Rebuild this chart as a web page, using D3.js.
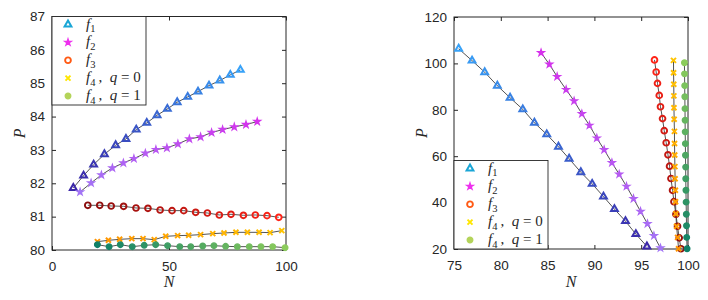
<!DOCTYPE html>
<html lang="en">
<head>
<meta charset="UTF-8">
<title>P vs N</title>
<script src="https://d3js.org/d3.v7.min.js"></script>
<style>
    body { margin: 0; background: #fff; }
    #chart { width: 708px; height: 300px; }
    .tick text { font-family: "Liberation Sans", Arial, sans-serif; font-size: 13.5px; fill: #262626; }
    .tick line { stroke: #262626; }
    .lbl { font-family: "Liberation Serif", "Times New Roman", serif; font-style: italic; font-size: 16px; fill: #262626; }
    .leg { font-family: "Liberation Serif", "Times New Roman", serif; font-size: 15px; fill: #262626; }
</style>
</head>
<body>
<div id="chart"></div>
<script>
// series names (legend)
const seriesNames = ["f1", "f2", "f3", "f4q0", "f4q1"];

// left panel (N ascending)
const leftF1N = [9.1, 13.5, 17.8, 22.4, 27.2, 31.6, 36.0, 40.5, 44.9, 49.3, 53.5, 58.0, 62.4, 67.1, 71.7, 76.2, 80.5];
const leftF1P = [81.86, 82.23, 82.56, 82.87, 83.14, 83.33, 83.61, 83.81, 84.04, 84.23, 84.43, 84.59, 84.75, 84.93, 85.08, 85.25, 85.40];
const leftF2N = [12.0, 16.7, 21.1, 25.8, 30.5, 35.0, 39.9, 44.4, 49.1, 53.8, 58.7, 63.5, 68.2, 72.9, 77.9, 82.9, 87.7];
const leftF2P = [81.74, 82.01, 82.25, 82.46, 82.61, 82.74, 82.90, 83.01, 83.06, 83.18, 83.33, 83.39, 83.52, 83.61, 83.69, 83.76, 83.85];
const leftF3N = [15.3, 20.4, 25.3, 30.6, 35.9, 41.0, 46.2, 51.3, 56.3, 61.4, 66.4, 71.5, 76.5, 81.8, 86.9, 91.9, 96.9];
const leftF3P = [81.34, 81.34, 81.32, 81.31, 81.26, 81.25, 81.20, 81.18, 81.18, 81.13, 81.11, 81.05, 81.07, 81.04, 81.05, 81.03, 80.98];
const leftF4q0N = [19.4, 24.1, 28.9, 34.1, 38.9, 43.7, 48.6, 53.7, 58.4, 63.5, 68.7, 73.5, 78.6, 83.5, 88.5, 93.2, 98.2];
const leftF4q0P = [80.25, 80.29, 80.32, 80.34, 80.34, 80.31, 80.41, 80.43, 80.44, 80.46, 80.49, 80.51, 80.53, 80.53, 80.53, 80.52, 80.58];
const leftF4q1N = [19.4, 24.4, 29.2, 34.3, 39.4, 44.3, 49.4, 54.6, 59.3, 64.4, 69.2, 74.2, 79.2, 84.3, 89.3, 94.3, 99.6];
const leftF4q1P = [80.16, 80.10, 80.16, 80.10, 80.14, 80.16, 80.13, 80.10, 80.10, 80.12, 80.13, 80.11, 80.10, 80.10, 80.10, 80.10, 80.07];

// right panel (top to bottom)
const rightF1N = [75.50, 76.93, 78.28, 79.63, 80.99, 82.35, 83.59, 84.91, 86.16, 87.30, 88.55, 89.76, 90.97, 92.14, 93.32, 94.43, 95.61];
const rightF1P = [106.3, 101.2, 96.2, 90.4, 85.2, 80.2, 74.4, 69.4, 64.1, 58.9, 53.1, 48.1, 42.6, 37.2, 32.0, 26.4, 21.1];
const rightF2N = [84.30, 85.19, 86.02, 86.98, 87.83, 88.66, 89.47, 90.26, 91.04, 91.87, 92.65, 93.43, 94.18, 94.93, 95.67, 96.36, 97.06];
const rightF2P = [104.6, 99.6, 94.3, 88.7, 83.8, 78.3, 73.3, 67.8, 62.8, 57.2, 52.2, 47.0, 41.7, 36.2, 30.9, 25.7, 20.4];
const rightF3N = [96.42, 96.60, 96.74, 96.93, 97.06, 97.28, 97.46, 97.67, 97.86, 98.03, 98.18, 98.35, 98.50, 98.71, 98.88, 99.06, 99.25];
const rightF3P = [101.5, 96.3, 91.4, 86.2, 81.3, 76.2, 71.0, 65.8, 60.6, 55.7, 50.4, 45.3, 40.4, 35.0, 29.8, 24.8, 20.1];
const rightF4q0N = [98.45, 98.46, 98.48, 98.49, 98.50, 98.52, 98.55, 98.56, 98.58, 98.60, 98.62, 98.65, 98.67, 98.70, 98.78, 98.89, 98.99];
const rightF4q0P = [101.3, 96.0, 91.0, 86.0, 80.9, 75.9, 70.7, 65.5, 60.5, 55.5, 50.3, 45.3, 40.4, 35.2, 29.8, 25.0, 20.1];
const rightF4q1N = [99.62, 99.63, 99.65, 99.66, 99.68, 99.69, 99.70, 99.72, 99.73, 99.75, 99.76, 99.78, 99.80, 99.82, 99.84, 99.86, 99.90];
const rightF4q1P = [100.3, 95.5, 90.4, 85.6, 80.5, 75.5, 70.5, 65.4, 60.4, 55.3, 50.3, 45.3, 40.2, 35.0, 30.0, 25.0, 20.1];

// tick labels
const leftXTicks = [0, 50, 100];
const leftYTicks = [80, 81, 82, 83, 84, 85, 86, 87];
const rightXTicks = [75, 80, 85, 90, 95, 100];
const rightYTicks = [20, 40, 60, 80, 100, 120];

// per series look: marker, gradient start/end, legend colour
const style = {
    f1:   { sym: d3.symbolTriangle, size: 20, fill: false, sw: 2,   c0: "#3b27a8", c1: "#38a2f8", leg: "#1aa6d6" },
    f2:   { sym: d3.symbolStar,     size: 11, fill: true,  sw: 1.5, c0: "#a274f6", c1: "#d630ec", leg: "#ee30ee" },
    f3:   { sym: d3.symbolCircle,   size: 26, fill: false, sw: 1.9, c0: "#8a0c0c", c1: "#ff2418", leg: "#ff5a14" },
    f4q0: { sym: d3.symbolTimes,    size: 18, fill: false, sw: 2,   c0: "#ff9400", c1: "#ffc400", leg: "#ffe600" },
    f4q1: { sym: d3.symbolCircle,   size: 24, fill: true,  sw: 1.4, c0: "#0f8068", c1: "#8ccc5c", leg: "#b4d45a" }
};

const svg = d3.select("#chart").append("svg")
    .attr("width", 708)
    .attr("height", 300);

function drawPanel(p) {
    const x = d3.scaleLinear().domain(p.xDomain).range([p.left, p.right]);
    const y = d3.scaleLinear().domain(p.yDomain).range([p.bottom, p.top]);
    const g = svg.append("g");

    // axes with inward ticks on all four sides
    g.append("g").attr("transform", `translate(0,${p.bottom})`)
        .call(d3.axisBottom(x).tickValues(p.xTicks).tickSizeInner(-4).tickSizeOuter(0).tickPadding(11.5).tickFormat(d3.format("d")));
    g.append("g").attr("transform", `translate(0,${p.top})`)
        .call(d3.axisTop(x).tickValues(p.xTicks).tickSizeInner(-4).tickSizeOuter(0).tickFormat(""));
    g.append("g").attr("transform", `translate(${p.left},0)`)
        .call(d3.axisLeft(y).tickValues(p.yTicks).tickSizeInner(-4).tickSizeOuter(0).tickPadding(7).tickFormat(d3.format("d")));
    g.append("g").attr("transform", `translate(${p.right},0)`)
        .call(d3.axisRight(y).tickValues(p.yTicks).tickSizeInner(-4).tickSizeOuter(0).tickFormat(""));
    g.selectAll(".domain").remove();

    g.append("rect")
        .attr("x", p.left).attr("y", p.top)
        .attr("width", p.right - p.left).attr("height", p.bottom - p.top)
        .attr("fill", "none").attr("stroke", "#262626").attr("stroke-width", 1);

    // connecting lines first
    const line = d3.line().x(d => x(d[0])).y(d => y(d[1]));
    p.series.forEach(s => {
        const pts = s.N.map((n, i) => [n, s.P[i]]);
        g.append("path").datum(pts)
            .attr("d", line)
            .attr("fill", "none")
            .attr("stroke", "#404040")
            .attr("stroke-width", 0.9);
    });

    // markers, colour running along each series
    p.series.forEach(s => {
        const st = style[s.name];
        const col = d3.interpolateRgb(st.c0, st.c1);
        const n = s.N.length;
        const t = i => p.flip ? 1 - i / (n - 1) : i / (n - 1);
        const sym = d3.symbol().type(st.sym).size(st.size);
        g.append("g").selectAll("path")
            .data(s.N.map((v, i) => ({ n: v, p: s.P[i], i: i })))
            .join("path")
            .attr("transform", d => `translate(${x(d.n)},${y(d.p)})`)
            .attr("d", sym)
            .attr("fill", d => st.fill ? col(t(d.i)) : "none")
            .attr("stroke", d => col(t(d.i)))
            .attr("stroke-width", st.sw);
    });

    // axis titles
    g.append("text").attr("class", "lbl")
        .attr("x", (p.left + p.right) / 2).attr("y", 287)
        .attr("text-anchor", "middle").text("N");
    g.append("text").attr("class", "lbl")
        .attr("transform", `translate(${p.left - 27},${(p.top + p.bottom) / 2}) rotate(-90)`)
        .attr("text-anchor", "middle").text("P");

    // legend
    const lg = g.append("g").attr("transform", `translate(${p.legX},${p.legY})`);
    lg.append("rect").attr("width", 94).attr("height", 88.5)
        .attr("fill", "#fff").attr("stroke", "#262626").attr("stroke-width", 0.9);
    const rowY = d3.scalePoint().domain(seriesNames).range([8, 79.5]);
    seriesNames.forEach(name => {
        const st = style[name];
        const cy = rowY(name);
        lg.append("path")
            .attr("transform", `translate(16,${cy})`)
            .attr("d", d3.symbol().type(st.sym).size(st.size)())
            .attr("fill", st.fill ? st.leg : "none")
            .attr("stroke", st.leg)
            .attr("stroke-width", st.sw);
        const t = lg.append("text").attr("class", "leg").attr("x", 34).attr("y", cy + 4);
        t.append("tspan").attr("font-style", "italic").text("f");
        const sub = name.charAt(1);
        t.append("tspan").attr("font-size", "10.5px").attr("dy", 3.5).text(sub);
        if (name.length > 2) {
            const q = name.charAt(3);
            t.append("tspan").attr("dy", -3.5).text("\u2009,\u2002");
            t.append("tspan").attr("font-style", "italic").text("q");
            t.append("tspan").text(" = " + q);
        }
    });
}

drawPanel({
    left: 52, right: 286, top: 16.5, bottom: 250,
    xDomain: [0, 100], yDomain: [80, 87],
    xTicks: leftXTicks, yTicks: leftYTicks,
    flip: false,
    legX: 52, legY: 16.5,
    series: [
        { name: "f1", N: leftF1N, P: leftF1P },
        { name: "f2", N: leftF2N, P: leftF2P },
        { name: "f3", N: leftF3N, P: leftF3P },
        { name: "f4q0", N: leftF4q0N, P: leftF4q0P },
        { name: "f4q1", N: leftF4q1N, P: leftF4q1P }
    ]
});

drawPanel({
    left: 454, right: 688, top: 17, bottom: 249,
    xDomain: [75, 100], yDomain: [20, 120],
    xTicks: rightXTicks, yTicks: rightYTicks,
    flip: true,
    legX: 454, legY: 160.5,
    series: [
        { name: "f1", N: rightF1N, P: rightF1P },
        { name: "f2", N: rightF2N, P: rightF2P },
        { name: "f3", N: rightF3N, P: rightF3P },
        { name: "f4q0", N: rightF4q0N, P: rightF4q0P },
        { name: "f4q1", N: rightF4q1N, P: rightF4q1P }
    ]
});
</script>
</body>
</html>
